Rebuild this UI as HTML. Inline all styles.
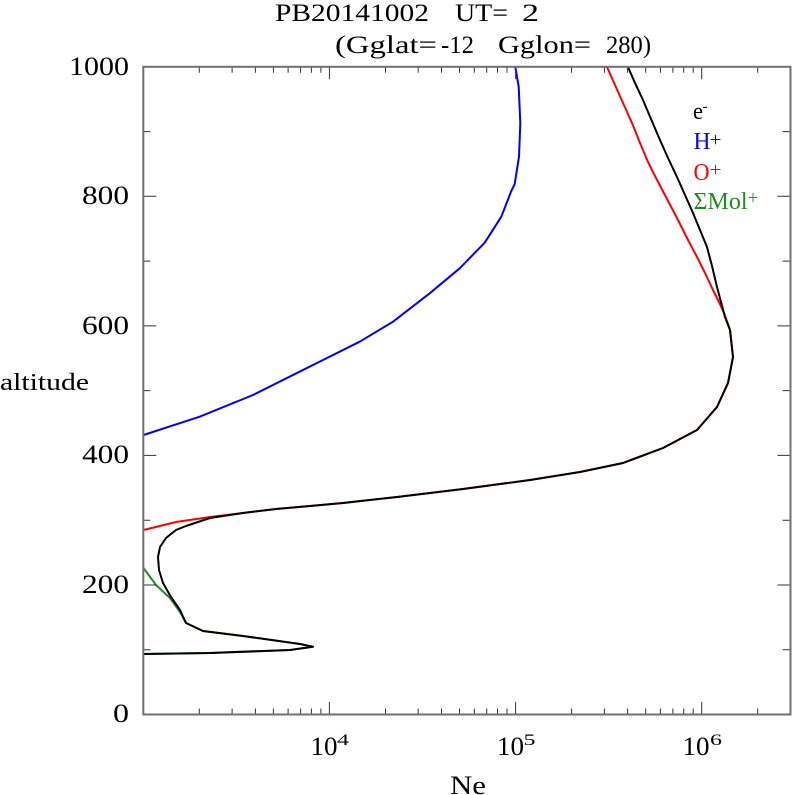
<!DOCTYPE html>
<html>
<head>
<meta charset="utf-8">
<style>
  html, body { margin: 0; padding: 0; background: #ffffff; }
  svg { display: block; }
  text { font-family: "Liberation Serif", "DejaVu Serif", serif; fill: #000; }
</style>
</head>
<body>
<svg width="792" height="795" viewBox="0 0 792 795" xmlns="http://www.w3.org/2000/svg">
  <rect x="0" y="0" width="792" height="795" fill="#ffffff"/>

  <!-- Title -->
  <text x="275" y="21" font-size="25" textLength="154" lengthAdjust="spacingAndGlyphs">PB20141002</text>
  <text x="455" y="21" font-size="25" textLength="53" lengthAdjust="spacingAndGlyphs">UT=</text>
  <text x="522" y="21" font-size="25" textLength="17" lengthAdjust="spacingAndGlyphs">2</text>
  <text x="335" y="53" font-size="25" textLength="102" lengthAdjust="spacingAndGlyphs">(Gglat=</text>
  <text x="441" y="53" font-size="25" textLength="33" lengthAdjust="spacingAndGlyphs">-12</text>
  <text x="498" y="53" font-size="25" textLength="93" lengthAdjust="spacingAndGlyphs">Gglon=</text>
  <text x="606" y="53" font-size="25" textLength="45" lengthAdjust="spacingAndGlyphs">280)</text>

  <!-- Curves -->
  <g fill="none" stroke-width="2" stroke-linejoin="round" stroke-linecap="round">
    <!-- H+ -->
    <path stroke="#0000ff" d="M143.5,435 L199.7,416.7 L253,395 L286.3,378.3 L323,360 L359.7,341.7 L393,321.7 L429.7,293.3 L459.7,268.3 L484.7,242.7 L501.3,216.7 L511,191.7 L514.7,184 L519,156.7 L520.3,123.3 L518.7,86.7 L515.3,67"/>
    <!-- Mol+ -->
    <path stroke="#228b22" d="M143.5,568 L156,585 L170,598 L180,612 L186,623 L203,631 L243,636 L300,644 L313,646.7 L290,650 L210,653 L143.5,654"/>
    <!-- O+ -->
    <path stroke="#ff0000" d="M143.5,530 L176,522 L210,517 L243,513 L276,509 L310,506 L343,503 L397,497 L463,489 L530,480 L580,472 L623,463 L663,448 L697,430 L717,407 L728,383 L733,357 L730,330 L724,313 L718,300 L713,290 L705,273 L697,257 L687,238 L677,218 L667,199 L657,180 L648,162 L640,143 L632,123 L623,103 L615,85 L607,67"/>
    <!-- e- -->
    <path stroke="#000000" d="M143.5,654 L210,653 L290,650 L313,646.7 L300,644 L243,636 L203,631 L186,623 L180,610 L171,597 L163,583 L159,570 L158,557 L160,547 L166,538 L176,530 L186,526 L210,518 L243,513 L276,509 L310,506 L343,503 L397,497 L463,489 L530,480 L580,472 L623,463 L663,448 L697,430 L717,407 L728,383 L733,357 L730,330 L725,317 L721,302 L717,287 L712,266 L707,247 L700,230 L693,213 L685,195 L677,177 L668,158 L660,140 L651,119 L643,100 L635,83 L628,67"/>
  </g>

  <!-- Ticks -->
  <g stroke="#333333" stroke-width="1" fill="none">
    <path d="M199.3,714.5v-6M232.1,714.5v-6M255.4,714.5v-6M273.4,714.5v-6M288.1,714.5v-6M300.6,714.5v-6M311.4,714.5v-6M320.9,714.5v-6M329.4,714.5v-12.5M385.5,714.5v-6M418.2,714.5v-6M441.5,714.5v-6M459.5,714.5v-6M474.3,714.5v-6M486.7,714.5v-6M497.5,714.5v-6M507,714.5v-6M515.6,714.5v-12.5M571.6,714.5v-6M604.4,714.5v-6M627.6,714.5v-6M645.7,714.5v-6M660.4,714.5v-6M672.9,714.5v-6M683.7,714.5v-6M693.2,714.5v-6M701.7,714.5v-12.5M757.7,714.5v-6"/>
    <path d="M199.3,66.8v6M232.1,66.8v6M255.4,66.8v6M273.4,66.8v6M288.1,66.8v6M300.6,66.8v6M311.4,66.8v6M320.9,66.8v6M329.4,66.8v12.5M385.5,66.8v6M418.2,66.8v6M441.5,66.8v6M459.5,66.8v6M474.3,66.8v6M486.7,66.8v6M497.5,66.8v6M507,66.8v6M515.6,66.8v12.5M571.6,66.8v6M604.4,66.8v6M627.6,66.8v6M645.7,66.8v6M660.4,66.8v6M672.9,66.8v6M683.7,66.8v6M693.2,66.8v6M701.7,66.8v12.5M757.7,66.8v6"/>
    <path d="M143.3,585h13M143.3,455.4h13M143.3,325.9h13M143.3,196.3h13M143.3,649.7h7M143.3,520.2h7M143.3,390.6h7M143.3,261.1h7M143.3,131.6h7"/>
    <path d="M790.5,585h-13M790.5,455.4h-13M790.5,325.9h-13M790.5,196.3h-13M790.5,649.7h-8M790.5,520.2h-8M790.5,390.6h-8M790.5,261.1h-8M790.5,131.6h-8"/>
  </g>

  <!-- Frame -->
  <rect x="143.3" y="66.8" width="647.2" height="647.7" fill="none" stroke="#707070" stroke-width="2"/>

  <!-- Y tick labels -->
  <text x="69" y="75" font-size="26" textLength="60" lengthAdjust="spacingAndGlyphs">1000</text>
  <text x="82" y="204" font-size="26" textLength="47" lengthAdjust="spacingAndGlyphs">800</text>
  <text x="82" y="334" font-size="26" textLength="47" lengthAdjust="spacingAndGlyphs">600</text>
  <text x="82" y="463" font-size="26" textLength="47" lengthAdjust="spacingAndGlyphs">400</text>
  <text x="82" y="593" font-size="26" textLength="47" lengthAdjust="spacingAndGlyphs">200</text>
  <text x="113" y="722" font-size="26" textLength="16" lengthAdjust="spacingAndGlyphs">0</text>

  <!-- X tick labels -->
  <text x="310.5" y="755" font-size="26" textLength="27" lengthAdjust="spacingAndGlyphs">10</text>
  <text x="337" y="745" font-size="16" textLength="12" lengthAdjust="spacingAndGlyphs">4</text>
  <text x="497" y="755" font-size="26" textLength="27" lengthAdjust="spacingAndGlyphs">10</text>
  <text x="523.5" y="745" font-size="16" textLength="12" lengthAdjust="spacingAndGlyphs">5</text>
  <text x="682.5" y="755" font-size="26" textLength="27" lengthAdjust="spacingAndGlyphs">10</text>
  <text x="710" y="745" font-size="16" textLength="12" lengthAdjust="spacingAndGlyphs">6</text>

  <!-- Axis labels -->
  <text x="450" y="794" font-size="26" textLength="36" lengthAdjust="spacingAndGlyphs">Ne</text>
  <text x="0" y="390" font-size="24" textLength="89" lengthAdjust="spacingAndGlyphs">altitude</text>

  <!-- Legend -->
  <text x="693" y="119" font-size="24" textLength="10" lengthAdjust="spacingAndGlyphs">e</text>
  <text x="702.5" y="111" font-size="16" textLength="5" lengthAdjust="spacingAndGlyphs">-</text>

  <text x="693.5" y="149" font-size="24" style="fill:#0000ff" textLength="17" lengthAdjust="spacingAndGlyphs">H</text>
  <text x="709.5" y="146" font-size="20" style="fill:#0000ff" textLength="12" lengthAdjust="spacingAndGlyphs">+</text>

  <text x="693.5" y="180" font-size="24" style="fill:#ff0000" textLength="16" lengthAdjust="spacingAndGlyphs">O</text>
  <text x="709.5" y="176" font-size="20" style="fill:#ff0000" textLength="12" lengthAdjust="spacingAndGlyphs">+</text>

  <text x="693.5" y="209" font-size="24" style="fill:#228b22" textLength="54" lengthAdjust="spacingAndGlyphs">ΣMol</text>
  <text x="748" y="204" font-size="20" style="fill:#228b22" textLength="10" lengthAdjust="spacingAndGlyphs">+</text>
</svg>
</body>
</html>
